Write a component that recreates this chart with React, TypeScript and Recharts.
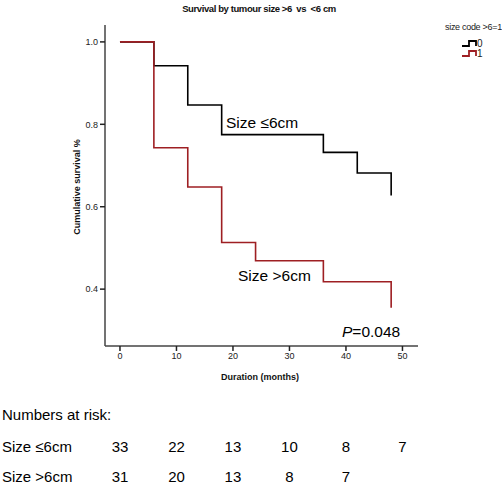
import React from "react";
import { LineChart, Line, XAxis, YAxis } from "recharts";

const title = "Survival by tumour size >6  vs  <6 cm";
const legendTitle = "size code >6=1";
const seriesNames = ["0", "1"];
const groupLabels = ["Size \u22646cm", "Size >6cm"];

const timesSmall = [0, 6, 12, 18, 36, 42, 48];
const survSmall = [1.0, 0.942, 0.847, 0.775, 0.732, 0.682, 0.627];
const timesLarge = [0, 6, 12, 18, 24, 36, 48];
const survLarge = [1.0, 0.743, 0.648, 0.513, 0.469, 0.418, 0.355];

const xTicks = [0, 10, 20, 30, 40, 50];
const yTicks = [0.4, 0.6, 0.8, 1.0];

const riskTimes = [0, 10, 20, 30, 40, 50];
const riskSmall = [33, 22, 13, 10, 8, 7];
const riskLarge = [31, 20, 13, 8, 7];

const pValue = "0.048";

const W = 502;
const H = 485;
const X_DOMAIN: [number, number] = [-2.65, 52.75];
const Y_DOMAIN: [number, number] = [0.262, 1.041];
const M = { top: 25, right: 84, left: 0, bottom: 0 };
const Y_AXIS_W = 105;
const X_AXIS_H = 139;

const BLACK = "#000000";
const RED = "#9e1f23";
const FONT = "Arial, 'Liberation Sans', sans-serif";

const dataSmall = timesSmall.map((t, i) => ({ t, s: survSmall[i] }));
const dataLarge = timesLarge.map((t, i) => ({ t, s: survLarge[i] }));

const plotLeft = M.left + Y_AXIS_W;
const plotRight = W - M.right;
const xPix = (t: number) =>
  plotLeft + ((t - X_DOMAIN[0]) / (X_DOMAIN[1] - X_DOMAIN[0])) * (plotRight - plotLeft);

export default function App() {
  return (
    <div style={{ position: "absolute", left: 0, top: 0, width: W, height: H, background: "#fff" }}>
      <LineChart width={W} height={H} margin={M}>
        <XAxis
          dataKey="t"
          type="number"
          domain={X_DOMAIN}
          ticks={xTicks}
          allowDataOverflow
          height={X_AXIS_H}
          stroke="#444"
          strokeWidth={1.5}
          tickSize={5}
          tickLine={{ stroke: "#222" }}
          tick={{ fill: "#222", fontSize: 9, fontFamily: FONT }}
        />
        <YAxis
          type="number"
          domain={Y_DOMAIN}
          ticks={yTicks}
          allowDataOverflow
          width={Y_AXIS_W}
          stroke="#444"
          strokeWidth={1.5}
          tickSize={5}
          tickLine={{ stroke: "#222" }}
          tickFormatter={(v: number) => v.toFixed(1)}
          tick={{ fill: "#222", fontSize: 9, fontFamily: FONT }}
        />
        <Line
          data={dataSmall}
          dataKey="s"
          type="stepAfter"
          stroke={BLACK}
          strokeWidth={1.6}
          dot={false}
          isAnimationActive={false}
          name={seriesNames[0]}
        />
        <Line
          data={dataLarge}
          dataKey="s"
          type="stepAfter"
          stroke={RED}
          strokeWidth={1.6}
          dot={false}
          isAnimationActive={false}
          name={seriesNames[1]}
        />
      </LineChart>
      <svg
        width={W}
        height={H}
        style={{ position: "absolute", left: 0, top: 0, pointerEvents: "none" }}
      >
        <text x={259} y={11.5} textAnchor="middle" fontFamily={FONT} fontSize={9.5} fontWeight="bold" fill="#111" letterSpacing={-0.4} style={{ whiteSpace: "pre" }}>
          {title}
        </text>
        <text x={445} y={30} fontFamily={FONT} fontSize={9} fill="#222" letterSpacing={-0.3}>
          {legendTitle}
        </text>
        {[BLACK, RED].map((c, i) => (
          <g key={i}>
            <path
              d={`M${462},${46 + i * 10} H${469} V${41 + i * 10} H${476} V${46 + i * 10}`}
              fill="none"
              stroke={c}
              strokeWidth={1.8}
            />
            <text x={477} y={47 + i * 10} fontFamily={FONT} fontSize={10} fill="#222">
              {seriesNames[i]}
            </text>
          </g>
        ))}
        <text
          transform={`translate(${80},${187}) rotate(-90)`}
          textAnchor="middle"
          fontFamily={FONT}
          fontSize={9}
          fontWeight="bold"
          fill="#111"
        >
          Cumulative survival %
        </text>
        <text x={260} y={380} textAnchor="middle" fontFamily={FONT} fontSize={9} fontWeight="bold" fill="#111">
          Duration (months)
        </text>
        <text x={226} y={128} fontFamily={FONT} fontSize={15.5} fill="#000">
          {groupLabels[0]}
        </text>
        <text x={238} y={281} fontFamily={FONT} fontSize={15.5} fill="#000">
          {groupLabels[1]}
        </text>
        <text x={342} y={337} fontFamily={FONT} fontSize={15.5} fill="#000">
          <tspan fontStyle="italic">P</tspan>={pValue}
        </text>
        <text x={2} y={420} fontFamily={FONT} fontSize={15} fill="#000">
          Numbers at risk:
        </text>
        <text x={2} y={452} fontFamily={FONT} fontSize={15} fill="#000">
          {groupLabels[0]}
        </text>
        <text x={2} y={482} fontFamily={FONT} fontSize={15} fill="#000">
          {groupLabels[1]}
        </text>
        {riskSmall.map((n, i) => (
          <text key={"a" + i} x={xPix(riskTimes[i])} y={452} textAnchor="middle" fontFamily={FONT} fontSize={15} fill="#000">
            {n}
          </text>
        ))}
        {riskLarge.map((n, i) => (
          <text key={"b" + i} x={xPix(riskTimes[i])} y={482} textAnchor="middle" fontFamily={FONT} fontSize={15} fill="#000">
            {n}
          </text>
        ))}
      </svg>
    </div>
  );
}
